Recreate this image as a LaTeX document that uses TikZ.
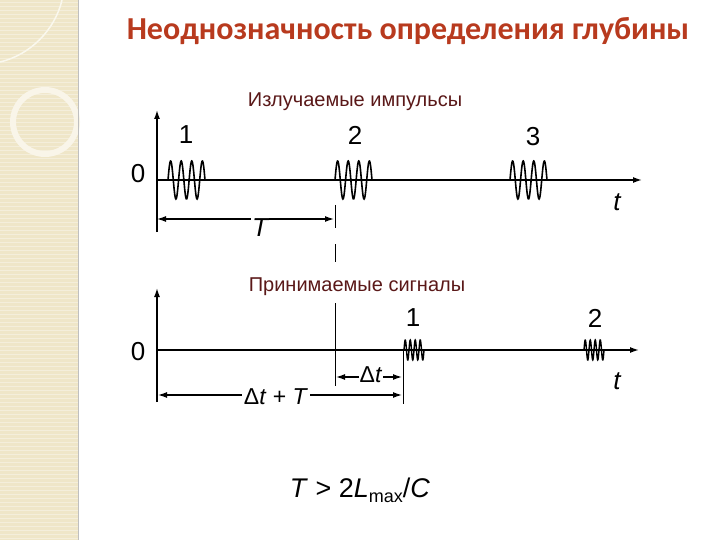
\documentclass[tikz,border=0pt]{standalone}
\usepackage{fontspec}
\setmainfont{Liberation Sans}
\newfontfamily\titlefont{Carlito}
\usetikzlibrary{arrows.meta}
\definecolor{beige}{HTML}{EFE6C8}
\definecolor{ttl}{HTML}{B83A1E}
\definecolor{lbl}{HTML}{5A1818}
\tikzset{
 ax/.style={line width=1.5pt,-{Latex[length=9pt,width=6pt]}},
 dim/.style={line width=1.3pt,{Latex[length=9pt,width=6pt]}-{Latex[length=9pt,width=6pt]}},
 wave/.style={line width=1.6pt},
 num/.style={font=\fontsize{26}{26}\selectfont},
 inum/.style={font=\itshape\fontsize{26}{26}\selectfont},
 captext/.style={font=\fontsize{20}{20}\selectfont,text=lbl}
}
\begin{document}
\begin{tikzpicture}[x=1pt,y=-1pt]
\useasboundingbox (0,0) rectangle (720,540);
\fill[white] (0,0) rectangle (720,540);
% left strip
\fill[beige] (0,0) rectangle (78,540);
\foreach \y in {2,6,...,538} \draw[white,opacity=0.35,line width=0.6pt] (0,\y) -- (78,\y);
\draw[white!60!beige,line width=6pt] (45,122) circle (32);
\draw[white!70!beige,line width=1.5pt] (0,62) .. controls (30,55) and (55,30) .. (62,0);
\draw[black!25,line width=0.8pt] (78,0) -- (78,540);
% title
\node[text=ttl,font=\titlefont\bfseries\fontsize{32}{32}\selectfont] (title) at (408,31) {Неоднозначность определения глубины};
% top plot
\node[captext] (cap1) at (355,102) {Излучаемые импульсы};
\coordinate (o1) at (157,180); \coordinate (y1b) at (157,232); \coordinate (y1t) at (157,110);
\coordinate (x1e) at (642,180);
\draw[ax] (y1b) -- (y1t);
\draw[ax] (o1) -- (x1e);
\foreach \s in {168,335,510}
  \draw[wave] plot[domain=0:37,samples=90,smooth] ({\s+\x},{180-19*sin(\x/37*3.5*360)});
\node[num] (n1) at (186,135) {1};
\node[num] (n2) at (355,135) {2};
\node[num] (n3) at (533,137) {3};
\node[num] (z1) at (138,174) {0};
\node[inum] (t1) at (617,202) {t};
\coordinate (Ta) at (157,219); \coordinate (Tb) at (334,219);
\draw[dim] (Ta) -- (Tb);
\node[inum,fill=white,inner sep=1pt] (T) at (260,228) {T};
\coordinate (m1) at (335,205); \coordinate (m2) at (335,228);
\coordinate (m3) at (335,244); \coordinate (m4) at (335,262);
\draw[line width=1pt] (m1) -- (m2) (m3) -- (m4);
% bottom plot
\node[captext] (cap2) at (357,287) {Принимаемые сигналы};
\coordinate (o2) at (157,350); \coordinate (y2b) at (157,402); \coordinate (y2t) at (157,288);
\coordinate (x2e) at (639,350);
\draw[ax] (y2b) -- (y2t);
\draw[ax] (o2) -- (x2e);
\foreach \s in {404,584}
  \draw[wave,line width=1.4pt] plot[domain=0:20,samples=90,smooth] ({\s+\x},{350-10*sin(\x/20*4*360)});
\node[num] (r1) at (413,318) {1};
\node[num] (r2) at (595,318) {2};
\node[num] (z2) at (138,352) {0};
\node[inum] (t2) at (617,381) {t};
\coordinate (k1) at (335,303); \coordinate (k2) at (335,386);
\draw[line width=1pt] (k1) -- (k2);
\coordinate (p1) at (403,350); \coordinate (p2) at (403,404);
\draw[line width=1pt] (p1) -- (p2);
\coordinate (da) at (336,377); \coordinate (db) at (402,377);
\draw[dim] (da) -- (db);
\node[fill=white,inner sep=1pt,font=\fontsize{23}{23}\selectfont] (dt) at (371,375) {Δ\textit{t}};
\coordinate (ea) at (158,395); \coordinate (eb) at (402,395);
\draw[dim] (ea) -- (eb);
\node[fill=white,inner sep=2pt,font=\fontsize{23}{23}\selectfont] (dtT) at (276,397) {Δ\textit{t} + \textit{T}};
\node[font=\fontsize{27}{27}\selectfont] (f) at (360,490) {\textit{T} \textgreater{} 2\textit{L}\raisebox{-0.35ex}{\fontsize{18}{18}\selectfont max}/\textit{C}};
\end{tikzpicture}
\end{document}
